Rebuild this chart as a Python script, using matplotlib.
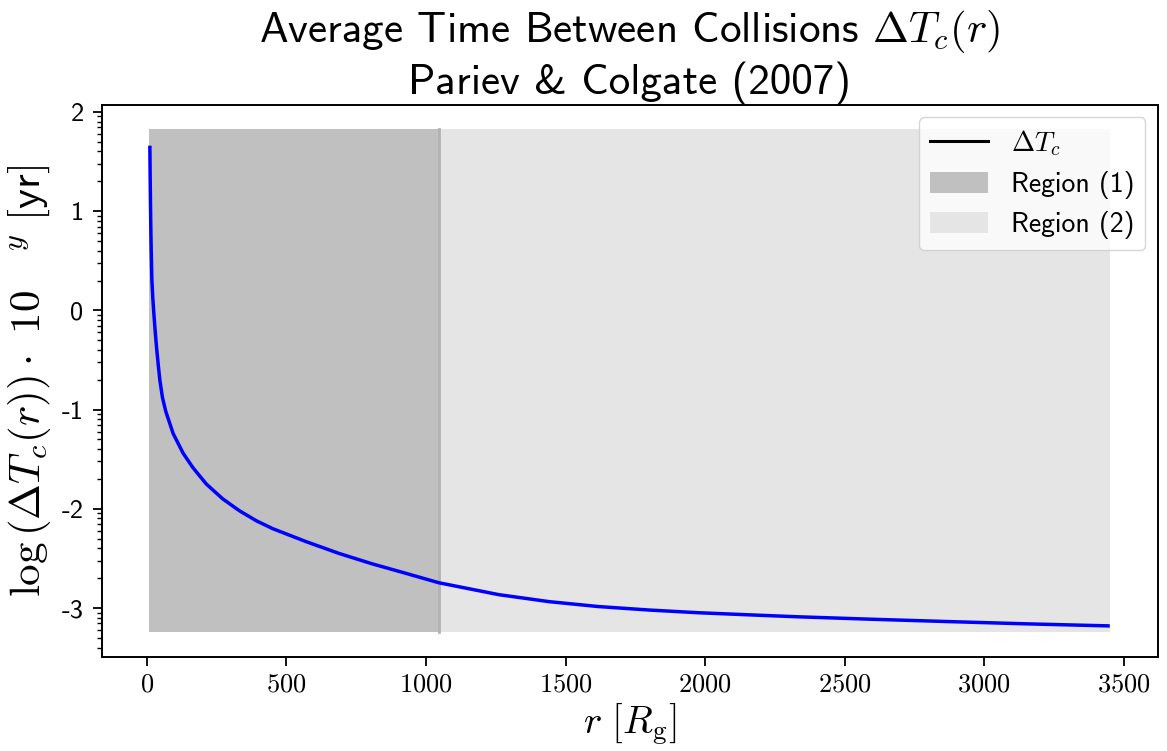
import numpy as np
import matplotlib
matplotlib.use("Agg")
import matplotlib.pyplot as plt
from matplotlib.lines import Line2D
from matplotlib.patches import Patch
from matplotlib.ticker import LogLocator, NullFormatter, FuncFormatter, FixedLocator

plt.rcParams['mathtext.fontset'] = 'cm'
plt.rcParams['font.family'] = ['cmss10', 'DejaVu Sans']
plt.rcParams['axes.formatter.use_mathtext'] = True

# Data (r in R_g, log10 of Delta T_c in yr)
r_vals = [10.7, 11.9, 13.1, 14.3, 15.5, 17.9, 21.4, 25, 29.8, 34.6, 40.5, 46.4,
          56, 68, 94, 130, 165, 213, 272, 332, 392, 451, 570, 689, 808, 928,
          1046, 1261, 1440, 1618, 1800, 1975, 2154, 2332, 2600, 2868,
          3150, 3450]
log_dT = [1.66, 1.33, 1.05, 0.81, 0.62, 0.31, 0.12, -0.03, -0.21, -0.37, -0.54,
          -0.70, -0.88, -1.02, -1.24, -1.44, -1.585, -1.75, -1.90, -2.02, -2.12,
          -2.20, -2.33, -2.45, -2.555, -2.65, -2.745, -2.865, -2.935, -2.985,
          -3.02, -3.047, -3.068, -3.088, -3.113, -3.136, -3.159, -3.18]
region1_x = [8, 1045]
region2_x = [1045, 3450]
region_y = [-3.24, 1.83]
yticks_log = [-3, -2, -1, 0, 1, 2]
xticks = [0, 500, 1000, 1500, 2000, 2500, 3000, 3500]

fig = plt.figure(figsize=(11.67, 7.51), dpi=100)
ax = fig.add_axes([0.0871, 0.1256, 0.905, 0.7346])
ax.set_yscale('log')

lo, hi = 10 ** region_y[0], 10 ** region_y[1]
ax.fill_between(region1_x, lo, hi, color='#c0c0c0', lw=0, zorder=1)
ax.fill_between(region2_x, lo, hi, color='#e5e5e5', lw=0, zorder=1)
ax.plot([region1_x[1], region1_x[1]], [lo, hi], color='#b2b2b2', lw=2, zorder=1.5)

ax.plot(r_vals, 10 ** np.array(log_dT), color='blue', lw=2.5, zorder=3,
        solid_capstyle='butt', solid_joinstyle='round')

ax.set_xlim(-162, 3622)
ax.set_ylim(10 ** -3.49, 10 ** 2.07)

ax.xaxis.set_major_locator(FixedLocator(xticks))
ax.xaxis.set_major_formatter(FuncFormatter(lambda v, p: r'$%d$' % int(round(v))))
ax.yaxis.set_major_locator(FixedLocator([10.0 ** k for k in yticks_log]))
ax.yaxis.set_major_formatter(FuncFormatter(lambda v, p: '%d' % int(round(np.log10(v)))))
ax.yaxis.set_minor_locator(LogLocator(base=10, subs=np.arange(2, 10), numticks=100))
ax.yaxis.set_minor_formatter(NullFormatter())

for s in ax.spines.values():
    s.set_linewidth(1.4)
ax.tick_params(axis='both', which='major', length=6.5, width=1.3)
ax.tick_params(axis='y', which='minor', length=3.5, width=1.0)
ax.tick_params(axis='x', labelsize=19, pad=5.5)
ax.tick_params(axis='y', labelsize=19, pad=6.5)

ax.set_title('Average Time Between Collisions $\\Delta T_c(r)$\nPariev & Colgate (2007)',
             fontsize=31, pad=4, linespacing=1.2)
ax.set_xlabel(r'$r\ [R_\mathrm{g}]$', fontsize=28)
ax.set_ylabel(r'$\log\left(\Delta T_c(r)\right)\cdot\ 10\ \ \ ^{y}\ [$yr$]$',
              fontsize=31, labelpad=6)

handles = [Line2D([], [], color='black', lw=2.2),
           Patch(facecolor='#c0c0c0', edgecolor='none'),
           Patch(facecolor='#e5e5e5', edgecolor='none')]
labels = [r'$\Delta T_c$', 'Region (1)', 'Region (2)']
ax.legend(handles, labels, loc='upper right', fontsize=20, handlelength=2.1,
          handleheight=0.8, borderaxespad=0.45, labelspacing=0.45)

fig.savefig('out.png', dpi=100)
